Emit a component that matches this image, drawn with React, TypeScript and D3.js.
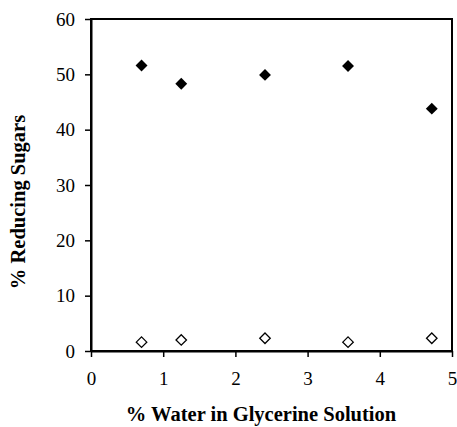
import React, { useEffect, useRef } from 'react';
import * as d3 from 'd3';

const waterPct = [0.7, 1.25, 2.41, 3.56, 4.72];
const sugarsA = [51.6, 48.3, 49.9, 51.5, 43.8];
const sugarsB = [1.6, 2.0, 2.3, 1.6, 2.3];
const xTicks = [0, 1, 2, 3, 4, 5];
const yTicks = [0, 10, 20, 30, 40, 50, 60];

const App = () => {
  const svgRef = useRef<SVGSVGElement>(null);

  useEffect(() => {
    const width = 457;
    const height = 427;
    const left = 91;
    const right = 452;
    const top = 19;
    const bottom = 351;

    const svg = d3.select(svgRef.current);
    svg.selectAll('*').remove();
    svg.attr('width', width).attr('height', height);

    const x = d3.scaleLinear().domain([0, 5]).range([left, right]);
    const y = d3.scaleLinear().domain([0, 60]).range([bottom, top]);

    const font = '"Liberation Serif", "Times New Roman", serif';

    // box
    svg.append('rect')
      .attr('x', left).attr('y', top)
      .attr('width', right - left).attr('height', bottom - top)
      .attr('fill', 'none').attr('stroke', '#000').attr('stroke-width', 2);

    const xAxis = svg.append('g')
      .attr('transform', `translate(0, ${bottom})`)
      .call(d3.axisBottom(x).tickValues(xTicks).tickFormat(d3.format('d')).tickSizeInner(6).tickSizeOuter(0).tickPadding(15));
    const yAxis = svg.append('g')
      .attr('transform', `translate(${left}, 0)`)
      .call(d3.axisLeft(y).tickValues(yTicks).tickFormat(d3.format('d')).tickSizeInner(6).tickSizeOuter(0).tickPadding(10));

    [xAxis, yAxis].forEach(g => {
      g.attr('font-family', null).attr('font-size', null);
      g.select('.domain').attr('stroke-width', 2);
      g.selectAll('line').attr('stroke-width', 1.5);
      g.selectAll('text')
        .style('font-family', font)
        .style('font-size', '19px')
        .attr('fill', '#000');
    });

    svg.selectAll('.filled')
      .data(waterPct)
      .enter()
      .append('path')
      .attr('d', d3.symbol().type(d3.symbolDiamond2).size(90))
      .attr('transform', (d, i) => `translate(${x(d)}, ${y(sugarsA[i])})`)
      .attr('fill', '#000');

    svg.selectAll('.open')
      .data(waterPct)
      .enter()
      .append('path')
      .attr('d', d3.symbol().type(d3.symbolDiamond2).size(70))
      .attr('transform', (d, i) => `translate(${x(d)}, ${y(sugarsB[i])})`)
      .attr('fill', '#fff')
      .attr('stroke', '#000')
      .attr('stroke-width', 1.3);

    svg.append('text')
      .attr('x', 261)
      .attr('y', 421)
      .attr('text-anchor', 'middle')
      .style('font-family', font)
      .style('font-weight', 'bold')
      .style('font-size', '20.5px')
      .text('% Water in Glycerine Solution');

    svg.append('text')
      .attr('transform', `translate(25, 202) rotate(-90)`)
      .attr('text-anchor', 'middle')
      .style('font-family', font)
      .style('font-weight', 'bold')
      .style('font-size', '20.5px')
      .text('% Reducing Sugars');
  }, []);

  return <svg ref={svgRef} style={{ position: 'absolute', left: 0, top: 0 }}></svg>;
};

export default App;
